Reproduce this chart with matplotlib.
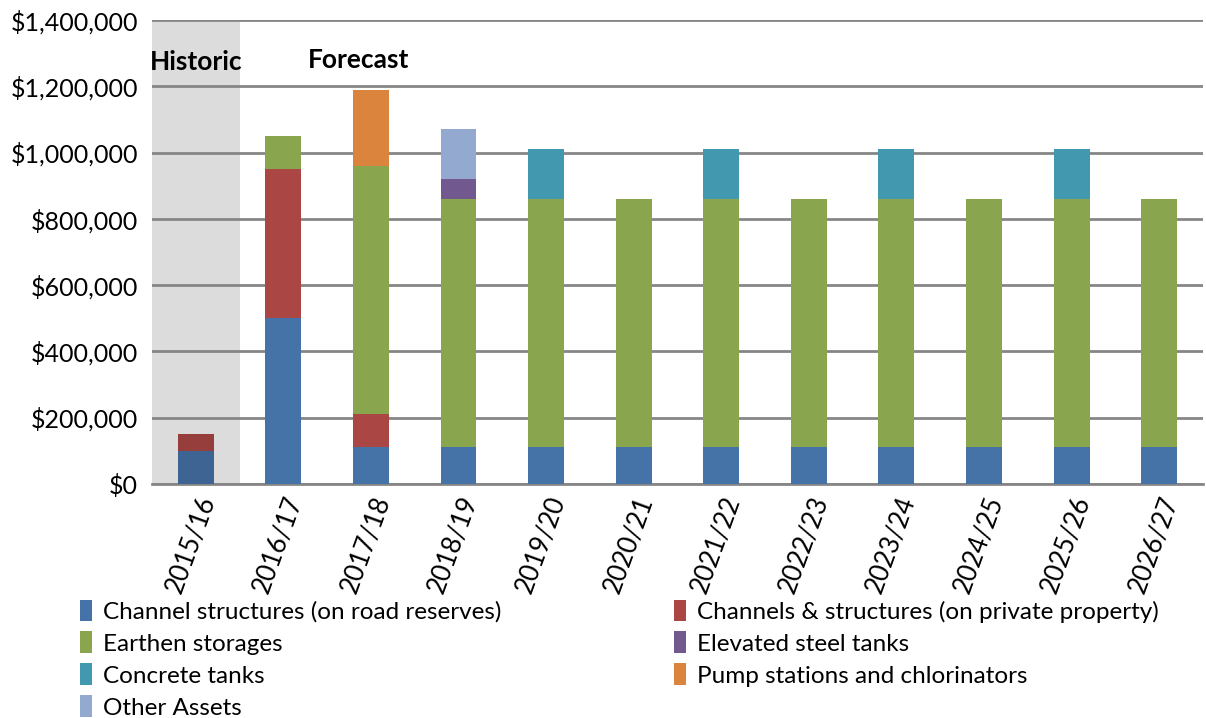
import matplotlib
matplotlib.use("Agg")
import matplotlib.pyplot as plt
import numpy as np
from matplotlib.patches import Patch
from matplotlib.ticker import FuncFormatter

plt.rcParams['font.family'] = ['Lato', 'DejaVu Sans']

years = ["2015/16", "2016/17", "2017/18", "2018/19", "2019/20", "2020/21",
         "2021/22", "2022/23", "2023/24", "2024/25", "2025/26", "2026/27"]

channel_road = [100000, 500000, 110000, 110000, 110000, 110000,
                110000, 110000, 110000, 110000, 110000, 110000]
channel_private = [50000, 450000, 100000, 0, 0, 0, 0, 0, 0, 0, 0, 0]
earthen = [0, 100000, 750000, 750000, 750000, 750000,
           750000, 750000, 750000, 750000, 750000, 750000]
elevated_steel = [0, 0, 0, 60000, 0, 0, 0, 0, 0, 0, 0, 0]
concrete = [0, 0, 0, 0, 150000, 0, 150000, 0, 150000, 0, 150000, 0]
pump = [0, 0, 230000, 0, 0, 0, 0, 0, 0, 0, 0, 0]
other = [0, 0, 0, 150000, 0, 0, 0, 0, 0, 0, 0, 0]

series = [
    ("Channel structures (on road reserves)", channel_road, "#4572A7"),
    ("Channels & structures (on private property)", channel_private, "#AA4643"),
    ("Earthen storages", earthen, "#89A54E"),
    ("Elevated steel tanks", elevated_steel, "#71588F"),
    ("Concrete tanks", concrete, "#4198AF"),
    ("Pump stations and chlorinators", pump, "#DB843D"),
    ("Other Assets", other, "#93A9CF"),
]

fig = plt.figure(figsize=(12.06, 7.18), dpi=100)
ax = fig.add_axes([0.126, 0.326, 0.8715, 0.646])

x = np.arange(len(years))
width = 0.41
n_hist = 1

# historic period shading
ax.axvspan(-0.5, n_hist - 0.5, color="#DCDCDC", zorder=0, lw=0)

bottom = np.zeros(len(years))
handles = []
for name, vals, col in series:
    vals = np.array(vals, dtype=float)
    rgb = np.array(matplotlib.colors.to_rgb(col))
    cols = [tuple(rgb * 0.88) if i < n_hist else col for i in range(len(years))]
    ax.bar(x, vals, width, bottom=bottom, color=cols, zorder=3, lw=0)
    bottom += vals
    handles.append(Patch(facecolor=col, edgecolor="none", label=name))

ax.set_ylim(0, 1400000)
ax.set_xlim(-0.5, len(years) - 0.5)
ax.set_yticks(np.arange(0, 1400001, 200000))
ax.yaxis.set_major_formatter(FuncFormatter(lambda v, p: "${:,.0f}".format(v)))
ax.grid(axis="y", color="#868686", lw=2, zorder=1)
ax.set_axisbelow(True)
for s in ["left", "right", "top"]:
    ax.spines[s].set_visible(False)
ax.spines["bottom"].set_color("#868686")
ax.spines["bottom"].set_linewidth(2)
ax.tick_params(axis="both", length=0, labelsize=18, colors="black")
ax.tick_params(axis="y", pad=10)
ax.tick_params(axis="x", pad=6)
ax.set_xticks(x)
ax.set_xticklabels(years, rotation=70, ha="right", va="top", rotation_mode="anchor", fontsize=18.5)

ax.text(-0.52, 1273000, "Historic", fontsize=19, fontweight="bold", ha="left", va="center", zorder=4)
ax.text(1.86, 1280000, "Forecast", fontsize=19, fontweight="bold", ha="center", va="center", zorder=4)

# row-wise legend ordering across two columns
order = [0, 2, 4, 6, 1, 3, 5]
leg = fig.legend([handles[i] for i in order], [handles[i].get_label() for i in order],
                 ncol=2, loc="upper left", bbox_to_anchor=(0.066, 0.165),
                 frameon=False, fontsize=17.5, handlelength=0.5, handleheight=1.0,
                 handletextpad=0.45, columnspacing=7.1, labelspacing=0.36,
                 borderaxespad=0, borderpad=0)

fig.savefig("out.png", dpi=100)
